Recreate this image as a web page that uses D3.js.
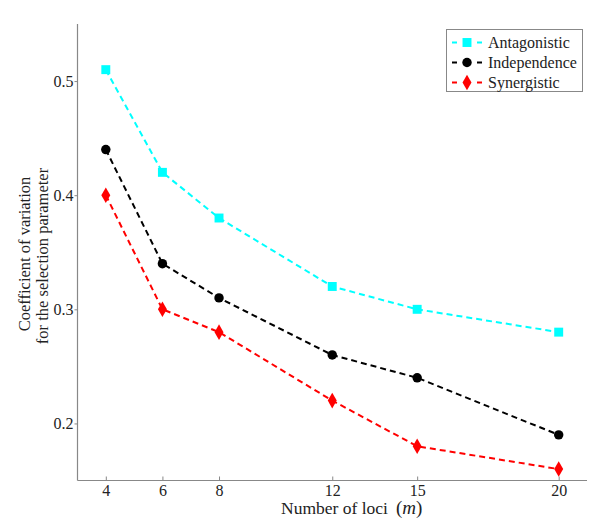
<!DOCTYPE html>
<html>
<head>
<meta charset="utf-8">
<script src="https://cdn.jsdelivr.net/npm/d3@7"></script>
<style>
body{margin:0;background:#fff;}
svg{display:block;}
svg text{font-family:"Liberation Serif","Times New Roman",serif;}
</style>
</head>
<body>
<svg id="chart" width="601" height="532"></svg>
<script>
const lociValues = [4, 6, 8, 12, 15, 20];
const xTicks = [4, 6, 8, 12, 15, 20];
const yTicks = [0.2, 0.3, 0.4, 0.5];
const antagonistic = [0.51, 0.42, 0.38, 0.32, 0.30, 0.28];
const independence = [0.44, 0.34, 0.31, 0.26, 0.24, 0.19];
const synergistic = [0.40, 0.30, 0.28, 0.22, 0.18, 0.16];
const seriesNames = ["Antagonistic", "Independence", "Synergistic"];

const FONT = "Liberation Serif, Times New Roman, serif";
const svg = d3.select("#chart");
const L = 77.5, R = 587, T = 24, B = 480.5;
const x = d3.scaleLinear().domain([3, 21]).range([L, R]);
const y = d3.scaleLinear().domain([0.15, 0.55]).range([B, T]);

const axisColor = "#888";

// axes
svg.append("line").attr("x1", L).attr("x2", L).attr("y1", T).attr("y2", B)
  .attr("stroke", axisColor).attr("stroke-width", 1.2);
svg.append("line").attr("x1", L).attr("x2", R).attr("y1", B).attr("y2", B)
  .attr("stroke", axisColor).attr("stroke-width", 1.2);

const xAxis = d3.axisBottom(x).tickValues(xTicks).tickSizeInner(-4).tickSizeOuter(0).tickPadding(4).tickFormat(d3.format("d"));
const gx = svg.append("g").attr("transform", `translate(0,${B})`).call(xAxis);
gx.attr("font-family", FONT).attr("font-size", 16);
gx.select(".domain").remove();
gx.selectAll(".tick line").attr("stroke", axisColor);
gx.selectAll(".tick text").attr("fill", "#222");

const yAxis = d3.axisLeft(y).tickValues(yTicks).tickSizeInner(3).tickSizeOuter(0).tickPadding(1).tickFormat(d3.format(".1f"));
const gy = svg.append("g").attr("transform", `translate(${L},0)`).call(yAxis);
gy.attr("font-family", FONT).attr("font-size", 16);
gy.select(".domain").remove();
gy.selectAll(".tick line").attr("stroke", axisColor);
gy.selectAll(".tick text").attr("fill", "#222");

// labels
const xl = svg.append("text").attr("y", 514)
  .attr("font-family", FONT).attr("font-size", 17.5).attr("fill", "#222");
xl.append("tspan").attr("x", 281).text("Number of loci");
xl.append("tspan").attr("x", 396).attr("font-size", 19).text("(");
xl.append("tspan").attr("font-style", "italic").attr("font-size", 19).text("m");
xl.append("tspan").attr("font-size", 19).text(")");

const yl = svg.append("text").attr("transform", "translate(0,256) rotate(-90)")
  .attr("text-anchor", "middle").attr("font-family", FONT).attr("font-size", 16.5).attr("fill", "#222");
yl.append("tspan").attr("x", 2).attr("y", 30).text("Coefficient of variation");
yl.append("tspan").attr("x", 0).attr("y", 47.5).text("for the selection parameter");

const series = [
  {name: seriesNames[0], values: antagonistic, color: "#00FFFF", shape: d3.symbolSquare, size: 80},
  {name: seriesNames[1], values: independence, color: "#000000", shape: d3.symbolCircle, size: 70},
  {name: seriesNames[2], values: synergistic, color: "#FF0000", shape: d3.symbolDiamond, size: 70}
];

const line = d3.line().x((d, i) => x(lociValues[i])).y(d => y(d));

series.forEach(s => {
  svg.append("path").datum(s.values).attr("d", line)
    .attr("fill", "none").attr("stroke", s.color).attr("stroke-width", 2)
    .attr("stroke-dasharray", "6,4");
  svg.selectAll(null).data(s.values).enter().append("path")
    .attr("d", d3.symbol().type(s.shape).size(s.size))
    .attr("transform", (d, i) => `translate(${x(lociValues[i])},${y(d)})`)
    .attr("fill", s.color);
});

// legend
const lg = svg.append("g");
lg.append("rect").attr("x", 446.5).attr("y", 29.5).attr("width", 136).attr("height", 62)
  .attr("fill", "#fff").attr("stroke", axisColor).attr("stroke-width", 1);
series.forEach((s, i) => {
  const yy = 42.5 + i * 20;
  lg.append("line").attr("x1", 452).attr("x2", 482).attr("y1", yy).attr("y2", yy)
    .attr("stroke", s.color).attr("stroke-width", 2).attr("stroke-dasharray", "5,20,5");
  lg.append("path").attr("d", d3.symbol().type(s.shape).size(s.size))
    .attr("transform", `translate(467,${yy})`).attr("fill", s.color);
  lg.append("text").attr("x", 488).attr("y", yy + 5.5).attr("font-family", FONT)
    .attr("font-size", 16).attr("fill", "#222").text(s.name);
});
</script>
</body>
</html>
